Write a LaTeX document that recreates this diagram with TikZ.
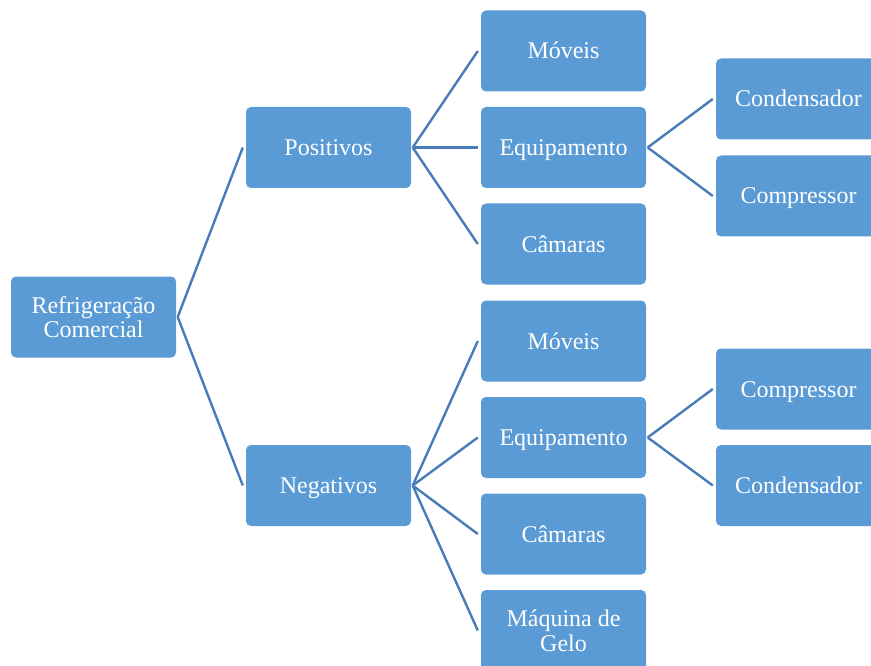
\documentclass[tikz,border=0pt]{standalone}
\usepackage{fontspec}
\setmainfont{Liberation Serif}
\definecolor{boxfill}{RGB}{91,155,213}
\definecolor{linkcol}{RGB}{72,124,184}
\begin{document}
\begin{tikzpicture}[x=1pt,y=-1pt,
  box/.style={draw=none, fill=boxfill, rounded corners=5pt, minimum width=165pt, minimum height=81pt,
    text=white, align=center, inner sep=0pt, font=\fontsize{24}{24.6}\selectfont},
  onebox/.style={box, text height=20.5pt, text depth=4.5pt},
  link/.style={draw=linkcol, line width=2.4pt}]
\useasboundingbox (0,0) rectangle (871,666);
% root
\node[box] (root) at (93.5,317) {Refrigeração\\Comercial};
% level 2
\node[onebox] (pos) at (328.5,147.5) {Positivos};
\node[onebox] (neg) at (328.5,485.5) {Negativos};
% level 3 positives
\node[onebox] (pm) at (563.5,51) {Móveis};
\node[onebox] (pe) at (563.5,147.5) {Equipamento};
\node[onebox] (pc) at (563.5,244) {Câmaras};
% level 3 negatives
\node[onebox] (nm) at (563.5,341) {Móveis};
\node[onebox] (ne) at (563.5,437.5) {Equipamento};
\node[onebox] (nc) at (563.5,534) {Câmaras};
\node[box] (ng) at (563.5,630.5) {Máquina de\\Gelo};
% level 4
\node[onebox] (pcd) at (798.5,99) {Condensador};
\node[onebox] (pcp) at (798.5,196) {Compressor};
\node[onebox] (ncp) at (798.5,389) {Compressor};
\node[onebox] (ncd) at (798.5,485.5) {Condensador};
% connectors
\foreach \a/\b in {root/pos, root/neg, pos/pm, pos/pe, pos/pc, neg/nm, neg/ne, neg/nc, neg/ng, pe/pcd, pe/pcp, ne/ncp, ne/ncd}
  \draw[link] ([xshift=1.5pt]\a.east) -- ([xshift=-3pt]\b.west);
\end{tikzpicture}
\end{document}
